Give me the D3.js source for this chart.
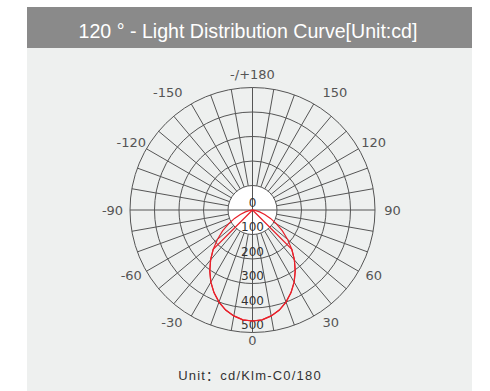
<!DOCTYPE html>
<html>
<head>
<meta charset="utf-8">
<script src="https://cdn.jsdelivr.net/npm/d3@7"></script>
<style>
  html, body { margin: 0; padding: 0; background: #ffffff; }
  svg { display: block; }
</style>
</head>
<body>
<svg id="chart" width="490" height="391"></svg>
<script>
// Title and footer text
const titleText = "120 ° - Light Distribution Curve[Unit:cd]";
const unitText = "Unit：cd/Klm-C0/180";

// Intensity rings (cd) and angle labels (degrees, 0 at bottom, positive to the right)
const ringValues = [100, 200, 300, 400, 500];
const ringLabels = [0, 100, 200, 300, 400, 500];
const angleTicks = [0, 30, 60, 90, 120, 150, 180, -150, -120, -90, -60, -30];
const angleTickLabels = ["0", "30", "60", "90", "120", "150", "-/+180", "-150", "-120", "-90", "-60", "-30"];

// C0/180 plane: gamma angle (deg) and intensity (cd)
const c0Angles = [-90, -85, -80, -75, -70, -65, -60, -55, -50, -45, -40, -35, -30, -25, -20, -15, -10, -5,
                  0, 5, 10, 15, 20, 25, 30, 35, 40, 45, 50, 55, 60, 65, 70, 75, 80, 85, 90];
const c0Values = [0, 3, 14, 30, 53, 81, 113, 149, 187, 227, 266, 304, 340, 372, 400, 423, 439, 450,
                  453, 450, 439, 423, 400, 372, 340, 304, 266, 227, 187, 149, 113, 81, 53, 30, 14, 3, 0];

// C90/270 plane: gamma angle (deg) and intensity (cd)
const c90Angles = [-50, -45, -40, -35, -30, -25, -20, -15, -10, -5, 0, 5, 10, 15, 20, 25, 30, 35, 40, 45, 50];
const c90Values = [0, 227, 266, 304, 340, 372, 400, 423, 439, 450, 453, 450, 439, 423, 400, 372, 340, 304, 266, 227, 0];

const svg = d3.select("#chart");

// Panels
svg.append("rect").attr("x", 27).attr("y", 48).attr("width", 445).attr("height", 343).attr("fill", "#eef0ef");
svg.append("rect").attr("x", 27).attr("y", 7).attr("width", 445).attr("height", 41).attr("fill", "#8a8a8a");
svg.append("text")
  .attr("x", 248).attr("y", 38)
  .attr("text-anchor", "middle")
  .attr("font-family", "'Liberation Sans', Arial, sans-serif")
  .attr("font-size", 19.6)
  .attr("fill", "#ffffff")
  .text(titleText);

const cx = 252.5, cy = 210;
const r = d3.scaleLinear().domain([0, 500]).range([0, 122.5]);
const toRad = d => (180 - d) * Math.PI / 180; // d3 radial angle: 0 at top, clockwise

const g = svg.append("g").attr("transform", `translate(${cx},${cy})`);
const gridColor = "#555555";

// Inner blank disc
g.append("circle").attr("r", r(100)).attr("fill", "#ffffff");

// Rings
g.selectAll("circle.ring").data(ringValues).join("circle")
  .attr("class", "ring")
  .attr("r", d => r(d))
  .attr("fill", "none")
  .attr("stroke", gridColor)
  .attr("stroke-width", 1);

// Spokes every 10 degrees; the main axes run through the centre
const spokes = d3.range(0, 360, 10);
g.selectAll("line.spoke").data(spokes).join("line")
  .attr("class", "spoke")
  .attr("x1", d => (d % 90 === 0 ? 0 : r(100)) * Math.sin(toRad(d)))
  .attr("y1", d => -(d % 90 === 0 ? 0 : r(100)) * Math.cos(toRad(d)))
  .attr("x2", d => r(500) * Math.sin(toRad(d)))
  .attr("y2", d => -r(500) * Math.cos(toRad(d)))
  .attr("stroke", gridColor)
  .attr("stroke-width", 1);

// Intensity labels down the 0-degree axis
g.selectAll("text.rlab").data(ringLabels).join("text")
  .attr("class", "rlab")
  .attr("x", 0)
  .attr("y", d => r(d) - 3.5)
  .attr("text-anchor", "middle")
  .attr("font-family", "'DejaVu Sans', sans-serif")
  .attr("font-size", 12)
  .attr("fill", "#333333")
  .text(d => d);

// Angle labels
g.selectAll("text.alab").data(angleTicks).join("text")
  .attr("class", "alab")
  .attr("x", d => 140 * Math.sin(d * Math.PI / 180))
  .attr("y", d => {
    const c = Math.cos(d * Math.PI / 180);
    return (c >= 0 ? 130 : 136) * c;
  })
  .attr("dy", "0.35em")
  .attr("text-anchor", d => {
    const a = Math.abs(d);
    if (a === 30 || a === 150) return d > 0 ? "start" : "end";
    return "middle";
  })
  .attr("font-family", "'DejaVu Sans', sans-serif")
  .attr("font-size", 13)
  .attr("fill", "#555555")
  .text((d, i) => angleTickLabels[i]);

// Distribution curves
const radial = d3.lineRadial()
  .angle(d => toRad(d[0]))
  .radius(d => r(d[1]))
  .curve(d3.curveLinear);

const c0 = c0Angles.map((a, i) => [a, c0Values[i]]);
const c90 = c90Angles.map((a, i) => [a, c90Values[i]]);

g.append("path").attr("d", radial(c0) + "Z")
  .attr("fill", "none").attr("stroke", "#e8202a").attr("stroke-width", 1.2);
g.append("path").attr("d", radial(c90))
  .attr("fill", "none").attr("stroke", "#e8202a").attr("stroke-width", 1.2);

// Footer
svg.append("text")
  .attr("x", 250).attr("y", 380)
  .attr("text-anchor", "middle")
  .attr("font-family", "'Liberation Sans', 'Noto Sans CJK SC', Arial, sans-serif")
  .attr("font-size", 13)
  .attr("letter-spacing", 1.2)
  .attr("fill", "#333333")
  .text(unitText);
</script>
</body>
</html>
